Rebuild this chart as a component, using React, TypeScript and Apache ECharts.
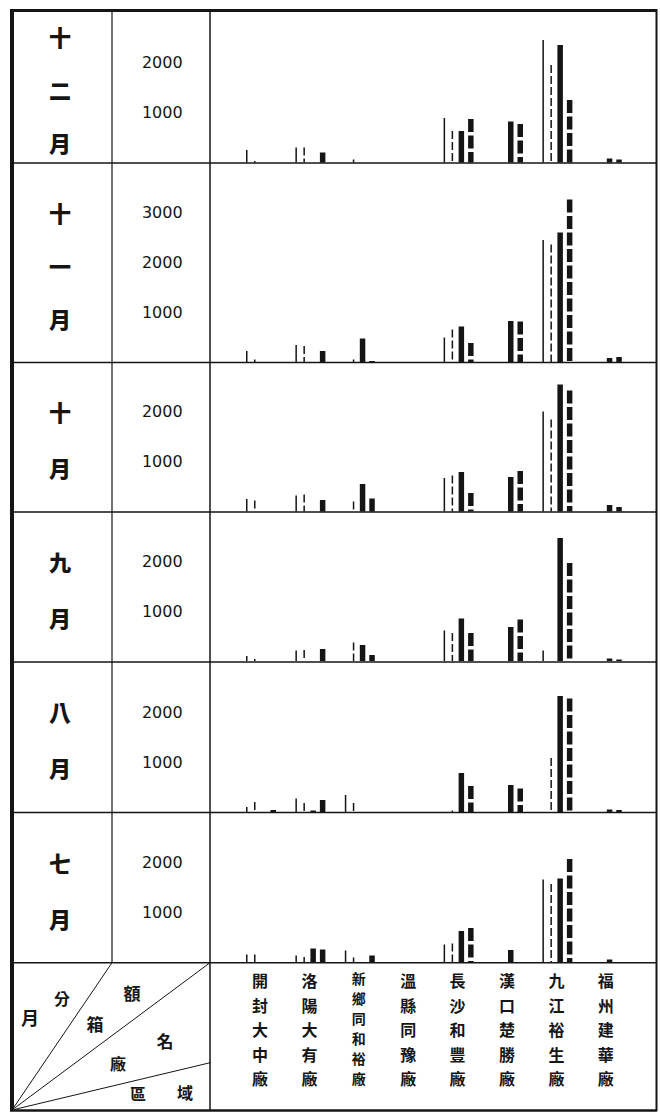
import React, { useEffect, useRef } from "react";
import * as echarts from "echarts";

// ---------- data ----------
const FACTORIES = ["開封大中廠", "洛陽大有廠", "新鄉同和裕廠", "溫縣同豫廠", "長沙和豐廠", "漢口楚勝廠", "九江裕生廠", "福州建華廠"];
const MONTHS = ["十二月", "十一月", "十月", "九月", "八月", "七月"];
const Y_TICKS = [[1000, 2000], [1000, 2000, 3000], [1000, 2000], [1000, 2000], [1000, 2000], [1000, 2000]];
const Y_MAX = [3000, 4000, 3000, 3000, 3000, 3000];

// four bar kinds: thin solid, thin dashed, thick solid, thick dashed
const DEC_THIN = [250, 300, 0, 0, 890, 0, 2450, 0];
const DEC_THIN_DASH = [30, 300, 60, 0, 630, 0, 1950, 0];
const DEC_THICK = [0, 0, 0, 0, 630, 820, 2350, 80];
const DEC_THICK_DASH = [0, 200, 0, 0, 870, 770, 1250, 60];

const NOV_THIN = [220, 340, 0, 0, 490, 0, 2440, 0];
const NOV_THIN_DASH = [50, 320, 50, 0, 650, 0, 2350, 0];
const NOV_THICK = [0, 0, 470, 0, 710, 820, 2590, 80];
const NOV_THICK_DASH = [0, 220, 20, 0, 380, 810, 3250, 100];

const OCT_THIN = [250, 320, 0, 0, 670, 0, 2000, 0];
const OCT_THIN_DASH = [220, 340, 200, 0, 720, 0, 1840, 0];
const OCT_THICK = [0, 0, 550, 0, 790, 690, 2540, 130];
const OCT_THICK_DASH = [0, 230, 260, 0, 370, 810, 2420, 90];

const SEP_THIN = [100, 210, 0, 0, 610, 0, 210, 0];
const SEP_THIN_DASH = [40, 220, 370, 0, 560, 0, 0, 0];
const SEP_THICK = [0, 0, 320, 0, 850, 680, 2460, 50];
const SEP_THICK_DASH = [0, 240, 120, 0, 560, 830, 1960, 30];

const AUG_THIN = [100, 270, 340, 0, 0, 0, 0, 0];
const AUG_THIN_DASH = [200, 180, 180, 0, 30, 0, 1080, 0];
const AUG_THICK = [0, 30, 0, 0, 780, 540, 2320, 50];
const AUG_THICK_DASH = [40, 240, 0, 0, 520, 470, 2270, 40];

const JUL_THIN = [150, 130, 230, 0, 350, 0, 1650, 0];
const JUL_THIN_DASH = [150, 100, 90, 0, 370, 0, 1560, 0];
const JUL_THICK = [0, 270, 0, 0, 620, 240, 1670, 50];
const JUL_THICK_DASH = [0, 250, 130, 0, 680, 0, 2060, 0];

const PANELS = [
  [DEC_THIN, DEC_THIN_DASH, DEC_THICK, DEC_THICK_DASH],
  [NOV_THIN, NOV_THIN_DASH, NOV_THICK, NOV_THICK_DASH],
  [OCT_THIN, OCT_THIN_DASH, OCT_THICK, OCT_THICK_DASH],
  [SEP_THIN, SEP_THIN_DASH, SEP_THICK, SEP_THICK_DASH],
  [AUG_THIN, AUG_THIN_DASH, AUG_THICK, AUG_THICK_DASH],
  [JUL_THIN, JUL_THIN_DASH, JUL_THICK, JUL_THICK_DASH],
];

// ---------- layout / style ----------
const INK = "#151515";
const CJK = "'Noto Sans CJK TC', 'Noto Sans CJK SC', sans-serif";
const GRID_LEFT = 235.3;
const GRID_WIDTH = 395.2;
const PX_PER_UNIT = 0.05;
const BASELINES = [162.5, 362, 511.5, 661, 812, 962];
const DIVIDERS = [163, 362.5, 512, 662, 812.5, 962.7];
const KIND_OFFSET = [-0.268, -0.106, 0.076, 0.268];
const KIND_STYLE = [
  { w: 1.5, dash: null as number[] | null },
  { w: 1.5, dash: [8, 3] },
  { w: 5.5, dash: null as number[] | null },
  { w: 5.5, dash: [13, 3.5] },
];

function renderer(kind: number) {
  return (_params: any, api: any) => {
    const v = api.value(1);
    if (!v) return null;
    const cat = api.value(0);
    const p0 = api.coord([cat, 0]);
    const p1 = api.coord([cat, v]);
    const band = api.size([1, 0])[0];
    const x = p0[0] + KIND_OFFSET[kind] * band;
    const st = KIND_STYLE[kind];
    return {
      type: "line",
      silent: true,
      shape: { x1: x, y1: p1[1], x2: x, y2: p0[1] },
      style: { stroke: INK, lineWidth: st.w, lineDash: st.dash || undefined, lineCap: "butt" },
    };
  };
}

function line(x1: number, y1: number, x2: number, y2: number, w: number) {
  return { type: "line", silent: true, shape: { x1, y1, x2, y2 }, style: { stroke: INK, lineWidth: w } };
}

function txt(text: string, x: number, y: number, size: number, extra: any = {}) {
  return {
    type: "text",
    silent: true,
    x,
    y,
    style: {
      text,
      fill: INK,
      fontSize: size,
      fontFamily: CJK,
      fontWeight: "bold",
      align: "center",
      verticalAlign: "middle",
      ...extra,
    },
  };
}

function buildOption() {
  const grids: any[] = [];
  const xAxes: any[] = [];
  const yAxes: any[] = [];
  const series: any[] = [];
  PANELS.forEach((panel, p) => {
    const h = Y_MAX[p] * PX_PER_UNIT;
    grids.push({ left: GRID_LEFT, width: GRID_WIDTH, top: BASELINES[p] - h, height: h });
    const last = p === PANELS.length - 1;
    xAxes.push({
      type: "category",
      gridIndex: p,
      data: FACTORIES,
      axisLine: { show: false },
      axisTick: { show: false },
      splitLine: { show: false },
      axisLabel: last
        ? {
            show: true,
            interval: 0,
            margin: 6,
            color: INK,
            fontFamily: CJK,
            fontWeight: "bold",
            fontSize: 16,
            lineHeight: 24.5,
            verticalAlign: "top",
            formatter: (v: string) =>
              v.length > 5 ? `{s|${v.split("").join("\n")}}` : v.split("").join("\n"),
            rich: { s: { fontSize: 14, lineHeight: 20, fontFamily: CJK, fontWeight: "bold", color: INK } },
          }
        : { show: false },
    });
    const ticks = Y_TICKS[p];
    yAxes.push({
      type: "value",
      gridIndex: p,
      min: 0,
      max: Y_MAX[p],
      interval: 1000,
      axisLine: { show: false },
      axisTick: { show: false },
      splitLine: { show: false },
      axisLabel: {
        show: true,
        margin: 73,
        align: "center",
        color: INK,
        fontSize: 16,
        fontFamily: "'DejaVu Sans', sans-serif",
        formatter: (v: number) => (ticks.indexOf(v) >= 0 ? String(v) : ""),
      },
    });
    panel.forEach((vals, k) => {
      series.push({
        type: "custom",
        xAxisIndex: p,
        yAxisIndex: p,
        renderItem: renderer(k),
        encode: { x: 0, y: 1 },
        data: vals.map((v, i) => [i, v]),
        silent: true,
      });
    });
  });

  const graphics: any[] = [];
  // outer frame
  graphics.push(line(10, 10.5, 657, 10.5, 3));
  graphics.push(line(12, 9, 12, 1111, 4));
  graphics.push(line(656.5, 9, 656.5, 1111, 2));
  graphics.push(line(10, 1110.5, 657, 1110.5, 2.5));
  // horizontal dividers
  DIVIDERS.forEach((y) => graphics.push(line(12, y, 657, y, 1.5)));
  // vertical dividers
  graphics.push(line(112, 10, 112, 962.7, 1.2));
  graphics.push(line(210, 10, 210, 1111, 1.5));
  // header diagonals
  graphics.push(line(12, 1110, 112, 962.7, 1));
  graphics.push(line(12, 1110, 210, 962.7, 1));
  graphics.push(line(12, 1110, 211, 1062.5, 1));
  // header words
  graphics.push(txt("月", 30, 1017, 18));
  graphics.push(txt("分", 62, 998, 16));
  graphics.push(txt("箱", 95, 1023, 17));
  graphics.push(txt("額", 132, 992, 17));
  graphics.push(txt("名", 165, 1040, 17));
  graphics.push(txt("廠", 118, 1063, 16));
  graphics.push(txt("區", 138, 1093, 16));
  graphics.push(txt("域", 185, 1092, 16));
  // month labels
  MONTHS.forEach((m, p) => {
    const top = p === 0 ? 10 : DIVIDERS[p - 1];
    const cy = (top + DIVIDERS[p]) / 2 + 2;
    graphics.push(
      txt(m.split("").join("\n"), 60, cy, 22, { lineHeight: m.length > 2 ? 53 : 56, fontWeight: 900 })
    );
  });

  return {
    animation: false,
    backgroundColor: "#ffffff",
    grid: grids,
    xAxis: xAxes,
    yAxis: yAxes,
    series,
    graphic: { elements: graphics },
  };
}

export default function App() {
  const ref = useRef<HTMLDivElement>(null);
  useEffect(() => {
    if (!ref.current) return;
    const chart = echarts.init(ref.current, undefined, { renderer: "svg" });
    chart.setOption(buildOption() as any);
    return () => chart.dispose();
  }, []);
  return (
    <div
      ref={ref}
      style={{ position: "fixed", left: 0, top: 0, width: 660, height: 1113, background: "#fff" }}
    />
  );
}
